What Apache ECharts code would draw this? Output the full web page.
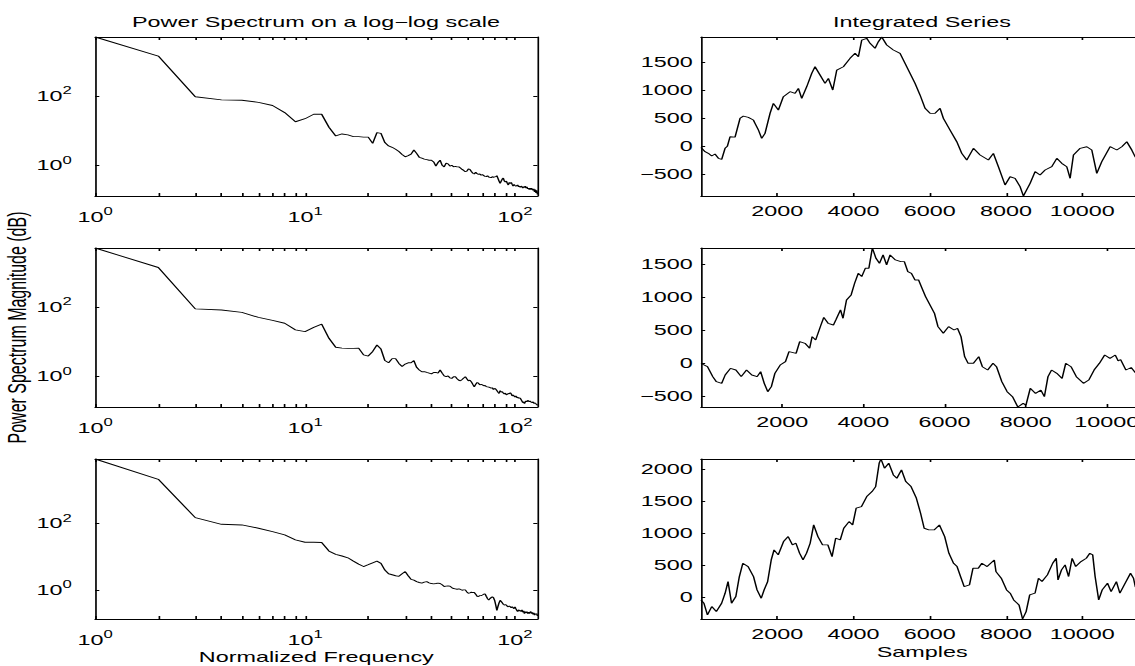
<!DOCTYPE html>
<html lang="en">
<head>
    <meta charset="UTF-8">
    <title>Power Spectrum / Integrated Series</title>
    <script src="https://cdn.jsdelivr.net/npm/echarts@6/dist/echarts.min.js"></script>
    <style>
        body { margin: 0; background: #fff; overflow: hidden; }
        /* the figure is drawn narrow and stretched sideways, like the original */
        #main { width: 680px; height: 666px; transform: scaleX(1.66912); transform-origin: 0 0; }
    </style>
</head>
<body>

<div id="main"></div>

<script type="text/javascript">

    // spectrum values at normalized frequency 1..128
    var specTop = [5000, 1410, 95, 77, 75, 65, 53, 33, 18, 22, 29.6, 29.6, 12.5, 7.0, 8.0, 7.5, 6.7, 6.7, 6.5, 6.5,
        4.3, 8.7, 8.3, 4.5, 3.6, 3.3, 2.9, 2.5, 2.05, 1.76, 1.9, 2.1, 2.76, 2.2, 1.7,
        1.6, 1.5, 1.45, 1.4, 1.4, 1.25, 0.95, 1.2, 1.4, 1.0,
        0.9, 1.15, 1.1, 0.95, 1.0, 0.9, 0.93, 0.9, 0.9, 0.83,
        0.76, 0.71, 0.65, 0.68, 0.78, 0.76, 0.66, 0.59, 0.56, 0.63,
        0.57, 0.55, 0.56, 0.52, 0.54, 0.5, 0.48, 0.47, 0.5, 0.46,
        0.45, 0.44, 0.47, 0.45, 0.46, 0.47, 0.5, 0.42, 0.35, 0.3,
        0.35, 0.4, 0.43, 0.35, 0.33, 0.35, 0.3, 0.27, 0.32, 0.3,
        0.32, 0.28, 0.25, 0.28, 0.26, 0.25, 0.25, 0.27, 0.24, 0.25,
        0.23, 0.25, 0.24, 0.22, 0.24, 0.23, 0.25, 0.22, 0.24, 0.21,
        0.22, 0.2, 0.22, 0.2, 0.22, 0.2, 0.19, 0.21, 0.17, 0.2,
        0.16, 0.19, 0.145]
    var specMid = [4900, 1350, 88, 82, 70, 50, 41, 34, 22, 19.5, 26, 32, 12.6, 7.0, 6.6, 6.5, 6.5, 6.6, 4.2, 3.9,
        5.3, 8.1, 6.2, 2.9, 2.5, 3.3, 3.3, 2.4, 1.95, 2.3, 2.5, 2.5, 2.9, 1.86, 1.55,
        1.38, 1.4, 1.32, 1.26, 1.2, 1.32, 1.32, 1.26, 1.55, 1.26,
        1.05, 1.0, 1.05, 0.93, 0.89, 1.0, 1.0, 0.87, 0.79, 0.76,
        0.83, 0.91, 1.0, 0.87, 0.76, 0.79, 0.71, 0.6, 0.51, 0.6,
        0.68, 0.65, 0.58, 0.6, 0.58, 0.55, 0.56, 0.52, 0.51, 0.5,
        0.49, 0.47, 0.48, 0.43, 0.46, 0.44, 0.4, 0.36, 0.33, 0.4,
        0.36, 0.37, 0.34, 0.32, 0.34, 0.3, 0.3, 0.33, 0.32, 0.35,
        0.32, 0.28, 0.3, 0.28, 0.26, 0.28, 0.25, 0.26, 0.24, 0.25,
        0.24, 0.22, 0.2, 0.18, 0.19, 0.17, 0.19, 0.2, 0.19, 0.21,
        0.2, 0.19, 0.2, 0.19, 0.195, 0.18, 0.19, 0.17, 0.18, 0.17,
        0.17, 0.16, 0.15]
    var specBot = [8300, 2050, 147, 93, 89, 71, 56, 45, 32, 27, 27, 26.5, 14.8, 11.8, 10.5, 9.3, 7.4, 6.0, 5.1, 5.8,
        6.6, 7.4, 6.3, 4.0, 3.1, 2.9, 2.7, 2.6, 3.1, 3.6, 2.7, 2.1, 2.0, 1.8, 1.7,
        1.62, 1.74, 1.8, 1.66, 1.58, 1.55, 1.58, 1.62, 1.58, 1.45,
        1.29, 1.32, 1.35, 1.32, 1.2, 1.12, 1.1, 1.07, 1.1, 1.05,
        1.0, 1.02, 1.02, 0.89, 0.81, 0.83, 0.87, 0.85, 0.85, 0.76,
        0.66, 0.65, 0.69, 0.69, 0.72, 0.76, 0.78, 0.66, 0.56, 0.51,
        0.56, 0.6, 0.63, 0.6, 0.5, 0.36, 0.25, 0.33, 0.42, 0.5,
        0.46, 0.42, 0.38, 0.36, 0.37, 0.36, 0.33, 0.32, 0.34, 0.32,
        0.3, 0.32, 0.3, 0.28, 0.32, 0.28, 0.25, 0.23, 0.26, 0.24,
        0.25, 0.23, 0.26, 0.22, 0.24, 0.2, 0.23, 0.21, 0.23, 0.2,
        0.22, 0.2, 0.22, 0.23, 0.2, 0.22, 0.19, 0.21, 0.18, 0.2,
        0.19, 0.2, 0.17]

    // integrated series, [sample, value]
    var integTop = [[0, -20], [105, -96], [192, -125], [280, -173], [367, -137], [455, -214], [542, -232], [630, -36],
        [690, 0], [761, 171], [892, 165], [1023, 500], [1110, 540], [1241, 518], [1372, 470], [1416, 411], [1500, 300],
        [1591, 143], [1678, 232], [1810, 589], [1897, 768], [2028, 648], [2159, 886], [2334, 975], [2466, 946],
        [2553, 1036], [2641, 857], [2772, 1064], [2903, 1304], [2990, 1421], [3121, 1273], [3252, 1125], [3340, 1214],
        [3455, 1005], [3560, 1362], [3733, 1421], [3908, 1571], [4040, 1661], [4127, 1600], [4215, 1898], [4346, 1929],
        [4433, 1839], [4564, 1750], [4651, 1868], [4739, 1952], [4870, 1809], [5044, 1720], [5220, 1661], [5351, 1482],
        [5482, 1304], [5613, 1125], [5744, 916], [5876, 679], [6007, 589], [6138, 589], [6269, 679], [6356, 500],
        [6531, 291], [6707, 82], [6838, -125], [6969, -245], [7143, -36], [7318, -155], [7536, -245], [7667, -125],
        [7798, -364], [7973, -691], [8105, -543], [8236, -571], [8367, -721], [8454, -887], [8560, -750], [8630, -661],
        [8761, -452], [8892, -512], [9023, -423], [9199, -364], [9330, -214], [9461, -304], [9592, -364], [9680, -571],
        [9767, -155], [9942, -36], [10117, -7], [10248, -66], [10379, -482], [10510, -275], [10729, -7], [10904, -66],
        [11035, -7], [11166, 82], [11297, -66], [11384, -186], [11500, -260], [11600, -300]]
    var integMid = [[0, 0], [27, 3], [159, -48], [289, -198], [378, -274], [509, -299], [595, -173], [726, -73],
        [859, -98], [990, -198], [1121, -98], [1252, -173], [1383, -198], [1469, -123], [1558, -299], [1644, -425],
        [1733, -349], [1820, -148], [1950, -23], [2081, 28], [2168, 178], [2343, 153], [2432, 329], [2563, 304],
        [2676, 229], [2738, 405], [2825, 354], [2955, 580], [3025, 696], [3131, 606], [3262, 580], [3323, 656],
        [3437, 807], [3499, 681], [3585, 957], [3699, 1033], [3785, 1209], [3874, 1359], [3960, 1309], [4049, 1435],
        [4136, 1435], [4222, 1740], [4311, 1585], [4397, 1510], [4486, 1636], [4573, 1485], [4659, 1636], [4790, 1560],
        [4923, 1535], [5010, 1535], [5096, 1384], [5185, 1359], [5271, 1259], [5360, 1259], [5447, 1133], [5533, 1008],
        [5664, 857], [5753, 756], [5839, 555], [5970, 455], [6101, 555], [6234, 505], [6321, 530], [6407, 405],
        [6496, 103], [6582, 3], [6713, 3], [6844, 103], [6933, -48], [7064, -98], [7195, 3], [7281, -48], [7412, -274],
        [7543, -425], [7676, -500], [7807, -655], [7938, -600], [8007, -626], [8113, -374], [8244, -450], [8375, -400],
        [8461, -500], [8550, -198], [8637, -98], [8768, -148], [8898, -224], [8987, 3], [9118, -48], [9249, -198],
        [9424, -299], [9555, -249], [9686, -98], [9817, 3], [9947, 128], [10078, 78], [10209, 128], [10280, 40],
        [10340, 60], [10471, -98], [10600, -60], [10716, -147], [10900, -200]]
    var integBot = [[0, -42], [76, -94], [168, -276], [281, -146], [401, -224], [540, -94], [632, 63], [708, 245],
        [800, -94], [913, 11], [1005, 323], [1096, 531], [1235, 479], [1377, 323], [1469, 115], [1579, -16], [1655, 115],
        [1747, 245], [1841, 583], [1915, 740], [2025, 662], [2164, 870], [2285, 948], [2397, 818], [2489, 844],
        [2584, 688], [2675, 583], [2767, 688], [2862, 844], [2954, 1130], [3066, 948], [3187, 818], [3326, 818],
        [3436, 635], [3531, 922], [3651, 896], [3743, 1078], [3882, 1182], [3976, 1130], [4068, 1391], [4207, 1417],
        [4346, 1573], [4485, 1651], [4580, 1729], [4672, 2094], [4719, 2160], [4811, 2016], [4923, 2094], [5044, 1911],
        [5136, 1859], [5257, 1990], [5370, 1807], [5508, 1729], [5647, 1547], [5758, 1313], [5852, 1078], [5973, 1052],
        [6112, 1052], [6251, 1130], [6390, 948], [6500, 688], [6623, 531], [6715, 479], [6807, 323], [6901, 167],
        [7040, 193], [7132, 453], [7271, 453], [7365, 531], [7504, 479], [7596, 531], [7691, 583], [7735, 401],
        [7874, 297], [8013, 115], [8108, 63], [8200, -42], [8339, -120], [8433, -340], [8526, -224], [8620, 37],
        [8759, 63], [8850, 297], [8942, 245], [9084, 349], [9223, 531], [9315, 609], [9362, 271], [9454, 427],
        [9548, 505], [9640, 323], [9732, 609], [9826, 479], [9965, 557], [10104, 609], [10196, 688], [10272, 662],
        [10335, 323], [10429, -42], [10521, 115], [10660, 219], [10754, 89], [10893, 245], [10985, 63], [11124, 219],
        [11263, 375], [11340, 300], [11390, 165], [11500, 100], [11600, 60]]

    // tick labels
    var freqTicks = [1, 10, 100]
    var freqMinorTicks = [1, 2, 3, 4, 5, 6, 7, 8, 9, 10, 20, 30, 40, 50, 60, 70, 80, 90, 100]
    var specTicks = [1, 100]
    var sampleTicks = [2000, 4000, 6000, 8000, 10000]
    var integTicksA = [-500, 0, 500, 1000, 1500]
    var integTicksB = [0, 500, 1000, 1500, 2000]

    var freqs = []
    for (var i = 1; i <= specTop.length; i++) {
        freqs.push(i)
    }

    function zipFreq(vals) {
        var out = []
        for (var i = 0; i < vals.length; i++) {
            out.push([freqs[i], vals[i]])
        }
        return out
    }

    var font = 'Liberation Sans'
    var txt = {fontFamily: font, fontSize: 14, color: '#000'}

    function supLabel(v) {
        return '{b|10}{e|' + Math.round(Math.log10(v)) + '}'
    }
    var supRich = {
        b: {fontFamily: font, fontSize: 14, lineHeight: 20, color: '#000'},
        e: {fontFamily: font, fontSize: 10, lineHeight: 10, verticalAlign: 'top', color: '#000'}
    }
    function numLabel(v) {
        return v < 0 ? '\u2212' + (-v) : '' + v
    }

    function axis(type, gi, pos, min, max, ticks, tickLen) {
        return {
            type: type, gridIndex: gi, position: pos, min: min, max: max, logBase: 10,
            axisLine: {show: true, onZero: false, lineStyle: {color: '#000', width: 1}},
            axisTick: {show: true, inside: true, length: tickLen, customValues: ticks, lineStyle: {color: '#000', width: 1}},
            axisLabel: {show: false},
            splitLine: {show: false},
            minorTick: {show: false}
        }
    }

    var panels = [
        {grid: {left: 57, top: 37, width: 265, height: 159}, log: true, data: zipFreq(specTop), ymin: 0.13, ymax: 5000},
        {grid: {left: 57, top: 248, width: 265, height: 159}, log: true, data: zipFreq(specMid), ymin: 0.135, ymax: 4900},
        {grid: {left: 57, top: 459, width: 265, height: 160}, log: true, data: zipFreq(specBot), ymin: 0.138, ymax: 8300},
        {grid: {left: 420, top: 37, width: 265, height: 159}, log: false, data: integTop, xmax: 11600, ymin: -887, ymax: 1952, yticks: integTicksA},
        {grid: {left: 420, top: 248, width: 265, height: 159}, log: false, data: integMid, xmax: 10900, ymin: -655, ymax: 1740, yticks: integTicksA},
        {grid: {left: 420, top: 459, width: 265, height: 160}, log: false, data: integBot, xmax: 11600, ymin: -340, ymax: 2160, yticks: integTicksB}
    ]

    var grids = [], xAxes = [], yAxes = [], series = []
    panels.forEach(function (p, gi) {
        grids.push(Object.assign({outerBoundsMode: 'none', containLabel: false, show: false}, p.grid))
        var xb, xt, yl, yr
        if (p.log) {
            xb = axis('log', gi, 'bottom', 1, 128, freqMinorTicks, 3)
            xt = axis('log', gi, 'top', 1, 128, freqMinorTicks, 3)
            xb.axisLabel = {show: true, customValues: freqTicks, margin: 11, formatter: supLabel, rich: supRich}
            yl = axis('log', gi, 'left', p.ymin, p.ymax, specTicks, 2.5)
            yr = axis('log', gi, 'right', p.ymin, p.ymax, specTicks, 2.5)
            yl.axisLabel = {show: true, customValues: specTicks, margin: 14, formatter: supLabel, rich: supRich}
        } else {
            xb = axis('value', gi, 'bottom', 0, p.xmax, sampleTicks, 3)
            xt = axis('value', gi, 'top', 0, p.xmax, sampleTicks, 3)
            xb.axisLabel = Object.assign({show: true, customValues: sampleTicks, margin: 8, formatter: numLabel}, txt)
            yl = axis('value', gi, 'left', p.ymin, p.ymax, p.yticks, 2.5)
            yr = axis('value', gi, 'right', p.ymin, p.ymax, p.yticks, 2.5)
            yl.axisLabel = Object.assign({show: true, customValues: p.yticks, margin: 5, formatter: numLabel}, txt)
        }
        xAxes.push(xb, xt)
        yAxes.push(yl, yr)
        series.push({
            type: 'line', xAxisIndex: gi * 2, yAxisIndex: gi * 2, data: p.data,
            showSymbol: false, silent: true, lineStyle: {color: '#000', width: 0.9}
        })
    })

    xAxes[4].name = 'Normalized Frequency'
    xAxes[4].nameLocation = 'middle'
    xAxes[4].nameGap = 31
    xAxes[4].nameTextStyle = txt
    xAxes[10].name = 'Samples'
    xAxes[10].nameLocation = 'middle'
    xAxes[10].nameGap = 26
    xAxes[10].nameTextStyle = txt
    yAxes[2].name = 'Power Spectrum Magnitude (dB)'
    yAxes[2].nameLocation = 'middle'
    yAxes[2].nameGap = 38
    yAxes[2].nameTextStyle = {fontFamily: font, fontSize: 16, color: '#000'}

    var myChart = echarts.init(document.getElementById('main'), null, {renderer: 'svg'})

    var option = {
        backgroundColor: '#fff',
        animation: false,
        title: [
            {text: 'Power Spectrum on a log\u2212log scale', left: 189.3, top: 22, textAlign: 'center', textVerticalAlign: 'middle',
                padding: 0, textStyle: Object.assign({fontWeight: 'normal'}, txt)},
            {text: 'Integrated Series', left: 552.4, top: 22, textAlign: 'center', textVerticalAlign: 'middle',
                padding: 0, textStyle: Object.assign({fontWeight: 'normal'}, txt)}
        ],
        grid: grids,
        xAxis: xAxes,
        yAxis: yAxes,
        series: series
    }

    myChart.setOption(option)

</script>

</body>
</html>
